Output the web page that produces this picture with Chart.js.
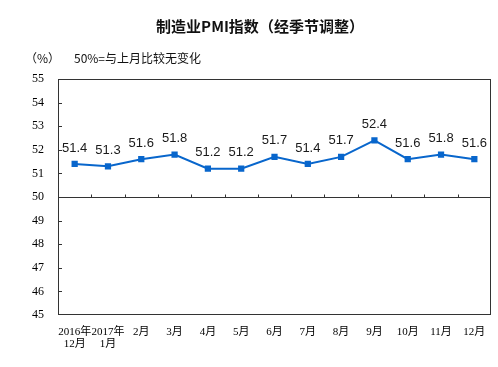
<!DOCTYPE html>
<html>
<head>
<meta charset="utf-8">
<script src="https://cdn.jsdelivr.net/npm/chart.js@4/dist/chart.umd.min.js"></script>
<style>
  body { margin: 0; background: #fff; }
  canvas { display: block; }
</style>
</head>
<body>
<canvas id="pmiChart" width="498" height="367"></canvas>
<script>
const categories = [['2016年', '12月'], ['2017年', '1月'], '2月', '3月', '4月', '5月', '6月', '7月', '8月', '9月', '10月', '11月', '12月'];
const pmiValues = [51.4, 51.3, 51.6, 51.8, 51.2, 51.2, 51.7, 51.4, 51.7, 52.4, 51.6, 51.8, 51.6];
const yMin = 45;
const yMax = 55;
const baseline = 50;

const lineColor = '#0866cc';
const frameColor = '#333333';
const cjk = '"Noto Sans CJK SC", "Noto Sans", sans-serif';
const serif = '"Liberation Serif", "Noto Sans CJK SC", serif';

// frame, inward ticks and the 50 line
const framePlugin = {
  id: 'frame',
  beforeDatasetsDraw(chart) {
    const { ctx, chartArea: a, scales } = chart;
    const y = scales.y, x = scales.x;
    ctx.save();
    ctx.strokeStyle = frameColor;
    ctx.lineWidth = 1;
    ctx.strokeRect(a.left + 0.5, a.top + 0.5, a.right - a.left - 1, a.bottom - a.top - 1);

    const y50 = Math.round(y.getPixelForValue(baseline)) + 0.5;
    ctx.beginPath();
    ctx.moveTo(a.left, y50);
    ctx.lineTo(a.right, y50);
    for (let v = yMin + 1; v < yMax; v++) {
      const py = Math.round(y.getPixelForValue(v)) + 0.5;
      ctx.moveTo(a.left, py);
      ctx.lineTo(a.left + 4, py);
    }
    const step = (a.right - a.left) / categories.length;
    for (let i = 1; i < categories.length; i++) {
      const px = Math.round(x.getPixelForValue(i) - step / 2) + 0.5;
      ctx.moveTo(px, y50);
      ctx.lineTo(px, y50 - 3);
    }
    ctx.stroke();
    ctx.restore();
  },
  afterDraw(chart) {
    const { ctx, chartArea: a } = chart;
    ctx.save();
    ctx.fillStyle = '#111';
    ctx.font = '12px ' + cjk;
    ctx.textBaseline = 'middle';
    ctx.textAlign = 'left';
    ctx.fillText('（%）', a.left - 33, 58);
    ctx.fillText('50%=与上月比较无变化', a.left + 16, 58);
    ctx.restore();
  }
};

// value labels above the points
const valueLabels = {
  id: 'valueLabels',
  afterDatasetsDraw(chart) {
    const { ctx } = chart;
    const meta = chart.getDatasetMeta(0);
    ctx.save();
    ctx.fillStyle = '#1a1a1a';
    ctx.font = '13px "Liberation Sans", Arial, sans-serif';
    ctx.textAlign = 'center';
    ctx.textBaseline = 'middle';
    meta.data.forEach((pt, i) => {
      ctx.fillText(pmiValues[i].toFixed(1), pt.x, pt.y - 16);
    });
    ctx.restore();
  }
};

new Chart(document.getElementById('pmiChart'), {
  type: 'line',
  data: {
    labels: categories,
    datasets: [{
      data: pmiValues,
      borderColor: lineColor,
      backgroundColor: lineColor,
      borderWidth: 2,
      pointStyle: 'rect',
      pointRadius: 3,
      pointHoverRadius: 3,
      tension: 0
    }]
  },
  options: {
    responsive: false,
    animation: false,
    layout: { padding: { left: 29, right: 7, top: 0, bottom: 0 } },
    plugins: {
      legend: { display: false },
      tooltip: { enabled: false },
      title: {
        display: true,
        text: '制造业PMI指数（经季节调整）',
        color: '#111',
        font: { family: cjk, size: 15, weight: 'bold', lineHeight: 1.2 },
        padding: { top: 17, bottom: 44 }
      }
    },
    scales: {
      x: {
        offset: true,
        grid: { display: false, drawTicks: false },
        border: { display: false },
        ticks: {
          color: '#000',
          font: { family: serif, size: 11, lineHeight: 1.1 },
          padding: 11,
          maxRotation: 0,
          autoSkip: false
        },
        afterFit(scale) { scale.height = 52; }
      },
      y: {
        min: yMin,
        max: yMax,
        grid: { display: false, drawTicks: false },
        border: { display: false },
        ticks: {
          stepSize: 1,
          color: '#000',
          font: { family: serif, size: 12 },
          padding: 14
        },
        afterFit(scale) { scale.width = 29; }
      }
    }
  },
  plugins: [framePlugin, valueLabels]
});
</script>
</body>
</html>
